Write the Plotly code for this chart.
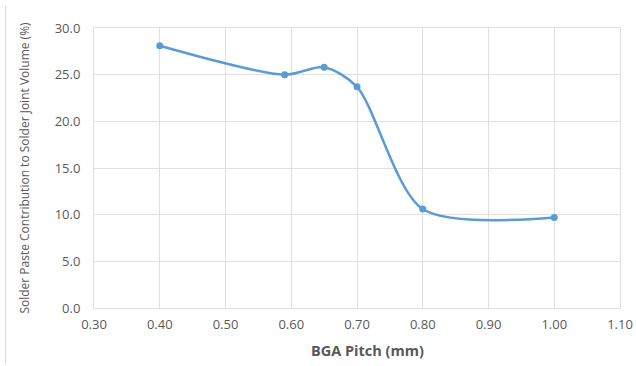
import plotly.graph_objects as go

pitch = [0.40, 0.59, 0.65, 0.70, 0.80, 1.00]
contribution = [28.1, 25.0, 25.8, 23.7, 10.6, 9.7]
x_ticks = [0.30, 0.40, 0.50, 0.60, 0.70, 0.80, 0.90, 1.00, 1.10]
y_ticks = [0.0, 5.0, 10.0, 15.0, 20.0, 25.0, 30.0]

fig = go.Figure()
fig.add_trace(go.Scatter(
    x=pitch, y=contribution, mode="lines+markers",
    line=dict(color="#5B9BD5", width=2.5, shape="spline", smoothing=0.8),
    marker=dict(color="#5B9BD5", size=7),
    showlegend=False,
))

grid = "#E0E0E0"
fam = "Open Sans, Liberation Sans, sans-serif"
tick_font = dict(family=fam, size=13, color="#595959")
fig.update_layout(
    width=636, height=366,
    margin=dict(l=94, r=16, t=28, b=58, autoexpand=False),
    paper_bgcolor="white", plot_bgcolor="white",
    font=tick_font,
    xaxis=dict(
        range=[0.30, 1.10], tickvals=x_ticks, automargin=False,
        ticktext=[f"{v:.2f}" for v in x_ticks],
        showgrid=True, gridcolor=grid, gridwidth=1,
        showline=True, linecolor=grid, mirror=True, zeroline=False,
        ticks="", tickfont=tick_font, ticklabelstandoff=4,
    ),
    yaxis=dict(
        range=[0, 30], tickvals=y_ticks, automargin=False,
        ticktext=[f"{v:.1f}" for v in y_ticks],
        showgrid=True, gridcolor=grid, gridwidth=1,
        showline=True, linecolor=grid, mirror=True, zeroline=False,
        ticks="", tickfont=tick_font, ticklabelstandoff=10,
        title=dict(text="Solder Paste Contribution to Solder Joint Volume (%)",
                   font=dict(family=fam, size=12, color="#595959"), standoff=22),
    ),
)
fig.add_annotation(text="<b>BGA Pitch (mm)</b>", xref="paper", yref="paper",
                   x=0.52, y=-0.152, xanchor="center", yanchor="middle",
                   showarrow=False, font=dict(family=fam, size=14.5, color="#595959"))
fig.add_shape(type="line", xref="paper", yref="paper",
              x0=-0.168, x1=-0.168, y0=-0.2, y1=1.08,
              line=dict(color="#D9D9D9", width=1))

fig.write_html("out.html", config={"displayModeBar": False},
               post_script="document.body.style.margin='0';")
